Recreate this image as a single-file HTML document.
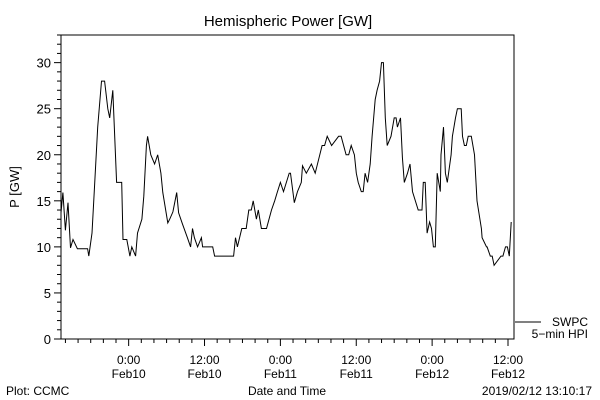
<!DOCTYPE html>
<html><head><meta charset="utf-8"><style>
body{margin:0;background:#fff;}
svg{display:block;font-family:"Liberation Sans","DejaVu Sans",sans-serif;}
</style></head><body>
<svg id="chart" width="600" height="400" viewBox="0 0 600 400">
<text x="288" y="26" font-size="15" text-anchor="middle">Hemispheric Power [GW]</text>
<text transform="translate(19,187) rotate(-90)" font-size="13" text-anchor="middle">P [GW]</text>
<text x="6" y="395" font-size="12">Plot: CCMC</text>
<text x="287" y="395" font-size="12" text-anchor="middle">Date and Time</text>
<text x="592" y="395" font-size="12" text-anchor="end">2019/02/12 13:10:17</text>
<g id="axes"></g>
<g id="series"></g>
<line x1="515" y1="322" x2="541" y2="322" stroke="#000" stroke-width="1"/>
<text x="588" y="326" font-size="12" text-anchor="end">SWPC</text>
<text x="588" y="338" font-size="12" text-anchor="end">5−min HPI</text>
</svg>
<script>
const yTicks=[0,5,10,15,20,25,30];
const xTickHours=[0,12,24,36,48,60];
const xTickTimes=["0:00","12:00","0:00","12:00","0:00","12:00"];
const xTickDays=["Feb10","Feb10","Feb11","Feb11","Feb12","Feb12"];
const hours=[-10.7,-10.4,-10.0,-9.6,-9.2,-8.8,-8.1,-6.5,-6.3,-5.8,-5.4,-4.9,-4.3,-3.8,-3.3,-3.0,-2.5,-2.2,-1.9,-1.1,-0.9,-0.3,0.2,0.5,1.1,1.4,2.1,2.4,2.8,3.0,3.5,4.1,4.6,5.1,5.4,6.2,6.5,7.0,7.6,7.9,8.5,9.3,9.8,10.1,10.4,10.9,11.5,11.7,13.3,13.6,16.6,16.9,17.2,17.9,18.6,19.0,19.4,19.7,20.2,20.5,21.0,21.8,22.6,23.1,23.5,24.0,24.5,25.4,25.6,26.2,26.7,27.3,27.5,28.1,28.9,29.5,30.6,31.0,31.4,32.1,33.2,33.6,34.4,34.8,35.2,35.7,36.0,36.3,36.8,37.1,37.4,37.8,38.2,38.5,39.0,39.3,39.7,40.0,40.3,40.6,40.9,41.5,42.0,42.3,42.5,43.0,43.3,43.6,44.1,44.5,44.9,45.8,46.4,46.6,46.9,47.2,47.6,47.9,48.2,48.5,48.8,49.3,49.4,49.8,50.1,50.4,51.0,51.2,51.7,52.0,52.6,52.8,53.1,53.4,53.7,54.2,54.7,55.1,55.8,55.9,56.6,56.7,57.2,57.5,57.8,58.9,59.2,59.6,59.9,60.2,60.5];
const power=[13.7,15.9,11.8,14.8,9.9,10.8,9.8,9.8,9,11.5,16.5,23,28,28,25,24,27,22,17,17,10.8,10.8,9,10,9,11.5,13,15.5,21,22,20,19,20,18,15.9,12.6,13,13.8,15.9,13.7,12.5,11,10,12,11,10,11,10,10,9,9,11,10,12,12,14,14,15,13,14,12,12,14,15,15.9,17,16,18,18,14.8,16,17,18.8,18,19,18,21,21,22,21,22,22,20,20,21,20,18,17,16,16,18,17,19,22,26,27,28,30,30,24,21,22,24,24,23,24,19.7,17,18,19,16,14,14,17,17,11.5,12.7,12,10,10,18,16,20,23,18,17,20,22,24,25,25,22,21,21,22,22,20,15,12,11,10,10,9,9,8,9,9,10,10,9,12.7,14];
const X0=61,X1=514,Y0=339,Y1=35,H0=-10.7,H1=60.95,V0=0,V1=33;
const xs=h=>X0+(h-H0)/(H1-H0)*(X1-X0);
const ys=v=>Y0-(v-V0)/(V1-V0)*(Y0-Y1);
const NS="http://www.w3.org/2000/svg";
const ax=document.getElementById('axes');
function mk(tag,attrs,parent){const e=document.createElementNS(NS,tag);for(const k in attrs)e.setAttribute(k,attrs[k]);parent.appendChild(e);return e;}
const frame=mk('rect',{x:X0,y:Y1,width:X1-X0,height:Y0-Y1,fill:'none',stroke:'#000','stroke-width':1},ax);


for(let v=0;v<=V1;v++){
  const major=v%5===0;
  const t=mk('line',{x1:X0-(major?7:4),x2:X0,y1:ys(v),y2:ys(v),stroke:'#000'},ax);
  
  
}
yTicks.forEach(v=>{
  const t=mk('text',{x:X0-10,y:ys(v)+5,'font-size':13,'text-anchor':'end'},ax);
  t.textContent=v;
  
  
});
for(let h=-10;h<=60;h+=2){
  const major=h%12===0;
  const t=mk('line',{x1:xs(h),x2:xs(h),y1:Y0,y2:Y0+(major?7:4),stroke:'#000'},ax);
  
  
}
xTickHours.forEach((h,i)=>{
  const t=mk('text',{x:xs(h),y:364,'font-size':12,'text-anchor':'middle'},ax);
  t.textContent=xTickTimes[i];
  
  
  const d=mk('text',{x:xs(h),y:378,'font-size':12,'text-anchor':'middle'},ax);
  d.textContent=xTickDays[i];
  
  
});
const pts=hours.map((h,i)=>xs(h).toFixed(1)+','+ys(power[i]).toFixed(1)).join(' ');
const line=mk('polyline',{points:pts,fill:'none',stroke:'#000','stroke-width':1},document.getElementById('series'));


</script>
</body></html>
